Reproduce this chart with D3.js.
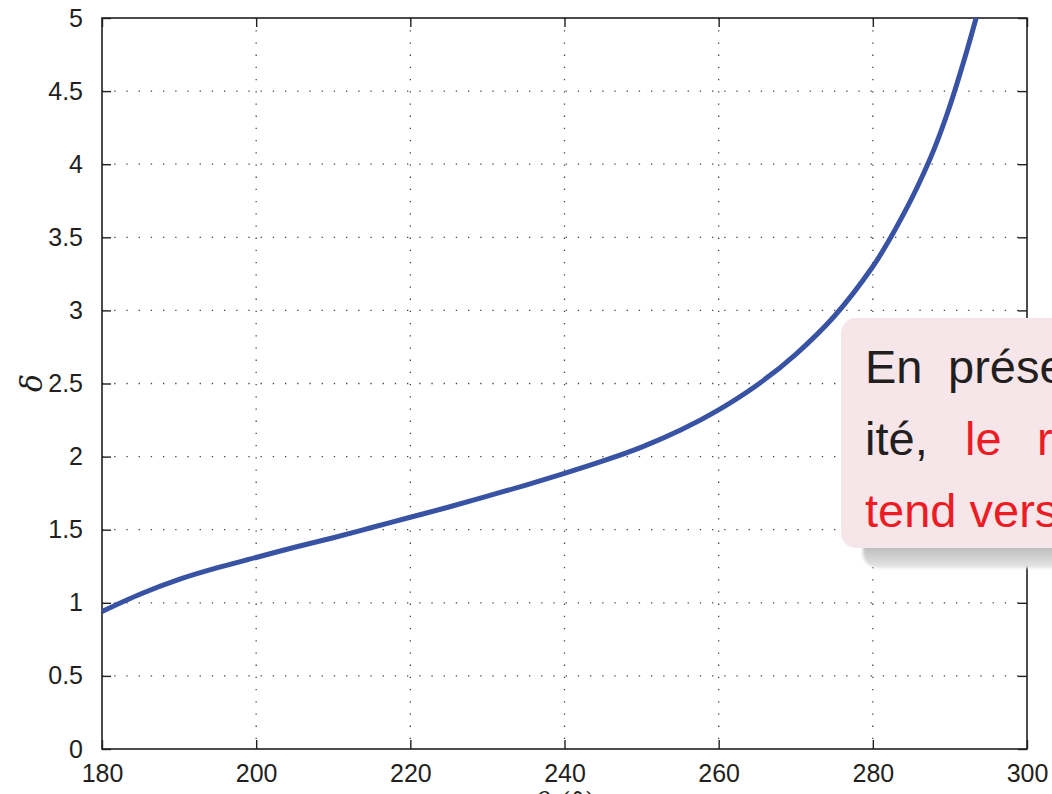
<!DOCTYPE html>
<html><head><meta charset="utf-8">
<script src="https://cdn.jsdelivr.net/npm/d3@7"></script>
<style>html,body{margin:0;padding:0;background:#fff;overflow:hidden}</style>
</head><body>
<svg id="c" width="1052" height="794"></svg>
<script>
const theta = [180,185,190,195,200,205,210,215,220,225,230,235,240,245,250,255,260,265,270,275,280,282,284,286,288,290,292,293.4];
const delta = [0.94,1.06,1.16,1.24,1.31,1.38,1.445,1.515,1.585,1.655,1.73,1.805,1.885,1.97,2.065,2.18,2.32,2.49,2.70,2.96,3.30,3.47,3.66,3.87,4.11,4.40,4.74,5.0];
const xTicks = [180,200,220,240,260,280,300];
const yTicks = [0,0.5,1,1.5,2,2.5,3,3.5,4,4.5,5];
const yTickLabels = ["0","0.5","1","1.5","2","2.5","3","3.5","4","4.5","5"];
const callLines = [
  [{t:"En",c:"#231f20"},{t:"présence de non-linéar-",c:"#231f20"}],
  [{t:"ité,",c:"#231f20"},{t:"le",c:"#ed1c24"},{t:"rapport",c:"#ed1c24"}],
  [{t:"tend vers l'infini",c:"#ed1c24"}]
];

const svg = d3.select("#c");
const L=102, R=1027, T=18, B=749;
const x = d3.scaleLinear().domain([180,300]).range([L,R]);
const y = d3.scaleLinear().domain([0,5]).range([B,T]);
const font = "'Liberation Sans', Arial, Helvetica, sans-serif";

// grid
const g = svg.append("g");
g.selectAll(".vg").data(xTicks.slice(1,-1)).join("line")
  .attr("x1",d=>x(d)).attr("x2",d=>x(d)).attr("y1",T).attr("y2",B)
  .attr("stroke","#444").attr("stroke-width",1.3).attr("stroke-dasharray","1.3,10.9");
g.selectAll(".hg").data(yTicks.slice(1,-1)).join("line")
  .attr("y1",d=>y(d)).attr("y2",d=>y(d)).attr("x1",L).attr("x2",R)
  .attr("stroke","#444").attr("stroke-width",1.3).attr("stroke-dasharray","1.3,10.9");

// axes with inward ticks
const ax = (sel, axis) => { sel.call(axis); sel.select(".domain").remove(); sel.selectAll("line").attr("stroke","#231f20").attr("stroke-width",1.4); sel.selectAll("text").attr("fill","#231f20").style("font-family",font).style("font-size","25px"); };
svg.append("g").attr("transform",`translate(0,${B})`)
  .call(s=>ax(s, d3.axisBottom(x).tickValues(xTicks).tickSize(-9).tickPadding(15).tickFormat(d3.format("d"))));
svg.append("g").attr("transform",`translate(0,${T})`)
  .call(s=>ax(s, d3.axisTop(x).tickValues(xTicks).tickSize(-9).tickFormat("")));
svg.append("g").attr("transform",`translate(${L},0)`)
  .call(s=>ax(s, d3.axisLeft(y).tickValues(yTicks).tickSize(-9).tickPadding(19).tickFormat((d,i)=>yTickLabels[i])));
svg.append("g").attr("transform",`translate(${R},0)`)
  .call(s=>ax(s, d3.axisRight(y).tickValues(yTicks).tickSize(-9).tickFormat("")));
svg.append("rect").attr("x",L).attr("y",T).attr("width",R-L).attr("height",B-T)
  .attr("fill","none").attr("stroke","#231f20").attr("stroke-width",1.6);

// curve
const pts = theta.map((t,i)=>[t,delta[i]]);
svg.append("path").datum(pts)
  .attr("d", d3.line().x(d=>x(d[0])).y(d=>y(d[1])).curve(d3.curveCatmullRom.alpha(0.5)))
  .attr("fill","none").attr("stroke","#3953a4").attr("stroke-width",5);

// axis labels
svg.append("text").attr("transform",`translate(42,383) rotate(-90)`)
  .attr("text-anchor","middle").style("font-family","'DejaVu Serif', serif").style("font-style","italic")
  .style("font-size","30px").attr("fill","#231f20").text("δ");
svg.append("text").attr("x",565).attr("y",812).attr("text-anchor","middle")
  .style("font-family","'DejaVu Serif', serif").style("font-size","28px").attr("fill","#231f20")
  .html("<tspan font-style='italic'>θ</tspan> (°)");

// callout
const defs = svg.append("defs");
const lg = defs.append("linearGradient").attr("id","sh").attr("x1",0).attr("x2",0).attr("y1",0).attr("y2",1);
lg.append("stop").attr("offset","0.80").attr("stop-color","#8c8c8c");
lg.append("stop").attr("offset","1").attr("stop-color","#e6e6e6");
defs.append("filter").attr("id","blur").attr("x","-20%").attr("y","-20%").attr("width","140%").attr("height","140%")
  .append("feGaussianBlur").attr("stdDeviation",1.5);
svg.append("rect").attr("x",863).attr("y",340).attr("width",300).attr("height",228).attr("rx",15)
  .attr("fill","url(#sh)").attr("filter","url(#blur)");
svg.append("rect").attr("x",841).attr("y",318).attr("width",300).attr("height",230).attr("rx",15)
  .attr("fill","#f6e6ea");
const wordX = [[865,948],[865,965,1037],[865]];
const baseY = [383,455,527];
callLines.forEach((line,li)=>{
  line.forEach((w,wi)=>{
    svg.append("text").attr("x",wordX[li][wi]).attr("y",baseY[li])
      .style("font-family",font).style("font-size","47px").attr("fill",w.c).text(w.t);
  });
});
</script>
</body></html>
